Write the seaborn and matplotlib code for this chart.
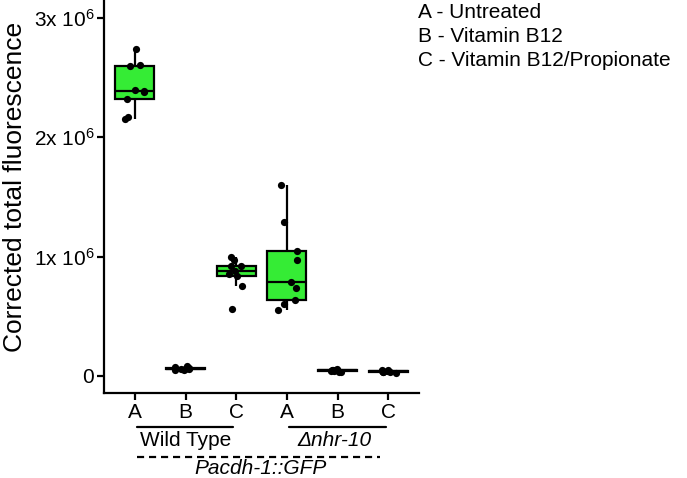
import numpy as np
import pandas as pd
import seaborn as sns
import matplotlib.pyplot as plt
import matplotlib.transforms as mtransforms

# Data (values in units of 1e6)

wt_a = [2.74, 2.61, 2.60, 2.40, 2.39, 2.38, 2.32, 2.17, 2.15]
wt_b = [0.045, 0.05, 0.055, 0.06, 0.06, 0.065, 0.07, 0.075, 0.08]
wt_c = [0.997, 0.975, 0.92, 0.92, 0.88, 0.85, 0.84, 0.75, 0.56]
nhr_a = [1.60, 1.294, 1.05, 0.975, 0.787, 0.737, 0.639, 0.60, 0.549]
nhr_b = [0.03, 0.035, 0.04, 0.04, 0.045, 0.045, 0.05, 0.05, 0.055]
nhr_c = [0.025, 0.03, 0.035, 0.035, 0.04, 0.04, 0.045, 0.045]

groups = ["WT_A", "WT_B", "WT_C", "NHR_A", "NHR_B", "NHR_C"]
tick_labels = ["A", "B", "C", "A", "B", "C"]
legend_lines = ["A - Untreated", "B - Vitamin B12", "C - Vitamin B12/Propionate"]
y_ticks = [0, 1, 2, 3]
y_tick_labels = ["0", "1x 10$^6$", "2x 10$^6$", "3x 10$^6$"]

rows = []
for g, vals in zip(groups, [wt_a, wt_b, wt_c, nhr_a, nhr_b, nhr_c]):
    for v in vals:
        rows.append({"group": g, "value": v * 1e6})
df = pd.DataFrame(rows)

# Style

sns.set_style("white")
plt.rcParams["font.family"] = ["Liberation Sans", "DejaVu Sans"]
plt.rcParams["mathtext.default"] = "regular"
plt.rcParams["text.color"] = "black"
plt.rcParams["axes.labelcolor"] = "black"
plt.rcParams["xtick.color"] = "black"
plt.rcParams["ytick.color"] = "black"

fig = plt.figure(figsize=(6.87, 4.78), dpi=100)
ax = fig.add_axes([0.1514, 0.178, 0.4586, 0.822])

green = "#35ec35"

sns.boxplot(data=df, x="group", y="value", order=groups, ax=ax,
            color=green, width=0.77, showfliers=False, showcaps=False,
            linewidth=1.6, linecolor="black", saturation=1)

np.random.seed(3)
sns.stripplot(data=df, x="group", y="value", order=groups, ax=ax,
              color="black", size=5.2, jitter=0.22, zorder=3)

ax.set_xlim(-0.61, 5.61)
ax.set_ylim(-0.143e6, 3.151e6)
ax.set_yticks([t * 1e6 for t in y_ticks])
ax.set_yticklabels(y_tick_labels)
ax.set_xticks(range(len(groups)))
ax.set_xticklabels(tick_labels)
ax.set_xlabel("")
ax.set_ylabel("Corrected total fluorescence", fontsize=19)
ax.yaxis.set_label_coords(-0.245, 0.525)

for s in ["top", "right"]:
    ax.spines[s].set_visible(False)
for s in ["left", "bottom"]:
    ax.spines[s].set_linewidth(1.6)
    ax.spines[s].set_color("black")
ax.tick_params(axis="both", which="major", length=5, width=1.6,
               color="black", labelcolor="black", labelsize=15,
               direction="out", left=True, bottom=True, pad=2)

# Group annotations below the axis

trans = mtransforms.blended_transform_factory(ax.transData, fig.transFigure)
ax.plot([0.04, 1.94], [1 - 427 / 478] * 2, color="black", lw=1.6,
        transform=trans, clip_on=False)
ax.plot([3.04, 4.96], [1 - 427 / 478] * 2, color="black", lw=1.6,
        transform=trans, clip_on=False)
ax.plot([0.04, 4.84], [1 - 456.5 / 478] * 2, color="black", lw=1.6,
        ls=(0, (3.2, 2.2)), transform=trans, clip_on=False)
ax.text(1, 1 - 440 / 478, "Wild Type", ha="center", va="center",
        fontsize=15, transform=trans)
ax.text(3.94, 1 - 440 / 478, "Δnhr-10", ha="center", va="center",
        fontsize=15, style="italic", transform=trans)
ax.text(2.47, 1 - 469 / 478, "Pacdh-1::GFP", ha="center", va="center",
        fontsize=15, style="italic", transform=trans)

# Legend text

for i, line in enumerate(legend_lines):
    fig.text(418 / 687, 1 - (13 + 23.5 * i) / 478, line, ha="left",
             va="center", fontsize=15)

fig.savefig("out.png", dpi=100)
